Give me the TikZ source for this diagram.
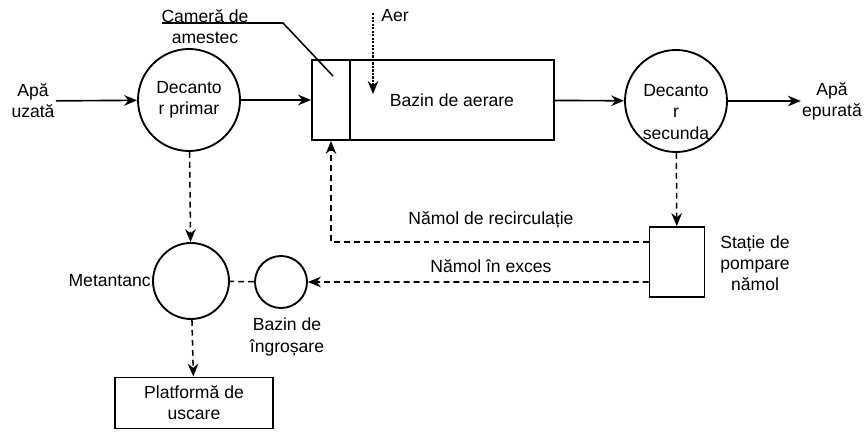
\documentclass[tikz,border=0pt]{standalone}
\usepackage{fontspec}
\setmainfont{Liberation Sans}
\usetikzlibrary{arrows.meta,positioning}

\begin{document}
\begin{tikzpicture}[
    x=0.03cm, y=-0.03cm,
    flow/.style={-{Stealth[length=11pt,width=9pt]}, line width=1.4pt},
    sludge/.style={-{Stealth[length=11pt,width=9pt]}, line width=1.3pt, dash pattern=on 5pt off 3.5pt},
    txt/.style={font=\fontsize{15}{18}\selectfont, align=center, inner sep=1pt},
    tank/.style={circle, draw, line width=1.6pt, inner sep=0pt, txt},
    unit/.style={rectangle, draw, line width=1.6pt, inner sep=0pt, txt}
]
\useasboundingbox (0,0) rectangle (864,432);

% Main water line
\node[txt] (uz) at (33,101) {Apă\\uzată};
\node[tank, minimum size=3.06cm] (dp) at (189,100) {Decanto\\r primar};
\node[unit, minimum width=1.14cm, minimum height=2.4cm] (cam) at (331,100) {};
\node[unit, minimum width=6.12cm, minimum height=2.4cm] (baz) at (452,100) {Bazin de aerare};
\node[tank, minimum size=3.06cm] (ds) at (676,101) {};
\node[txt] (dstxt) at (676,112) {Decanto\\r\\secunda};
\node[txt] (ep) at (832,101) {Apă\\epurată};

\draw[flow] (uz) -- (dp);
\draw[flow] (dp) -- (cam);
\draw[flow] (baz) -- (ds);
\draw[flow] (ds) -- (ep);

% Air input
\node[txt, anchor=west] (aer) at (380,16) {Aer};
\coordinate (aertop) at (373,13);
\coordinate (aerend) at (373,94);
\draw[-{Stealth[length=11pt,width=9pt]}, line width=1.1pt, dash pattern=on 2pt off 1pt] (aertop) -- (aerend);

% Mixing chamber callout
\node[txt] (camlbl) at (205,27) {Cameră de\\amestec};
\coordinate (ulstart) at (162,23);
\coordinate (knee) at (283,23);
\coordinate (ldr) at (333,76);
\draw[line width=1.3pt] (ulstart) -- (knee) -- (ldr);

% Sludge pumping
\node[unit, minimum width=1.65cm, minimum height=2.1cm] (sp) at (677,262) {};
\node[txt] (splbl) at (755,263) {Stație de\\pompare\\nămol};
\draw[sludge] (ds) -- (sp);
\draw[sludge] ([yshift=0.6cm]sp.west) -| (cam.south);
\node[txt] at (491,220) {Nămol de recirculație};
\node[txt] at (491,266) {Nămol în exces};

% Sludge treatment
\node[tank, minimum size=1.56cm] (bi) at (281,282) {};
\node[txt] (bilbl) at (287,337) {Bazin de\\îngroșare};
\node[tank, minimum size=2.28cm] (mt) at (191,281) {};
\node[txt, left=0pt of mt] (mtlbl) {Metantanc};
\node[unit, minimum width=4.74cm, minimum height=1.53cm] (pl) at (194,403) {Platformă de\\uscare};

\draw[sludge] ([yshift=-0.6cm]sp.west) -- (bi);
\draw[line width=1.3pt, dash pattern=on 5pt off 3.5pt] (bi) -- (mt);
\draw[sludge] (dp) -- (mt);
\draw[sludge] (mt) -- (pl);

\end{tikzpicture}
\end{document}
